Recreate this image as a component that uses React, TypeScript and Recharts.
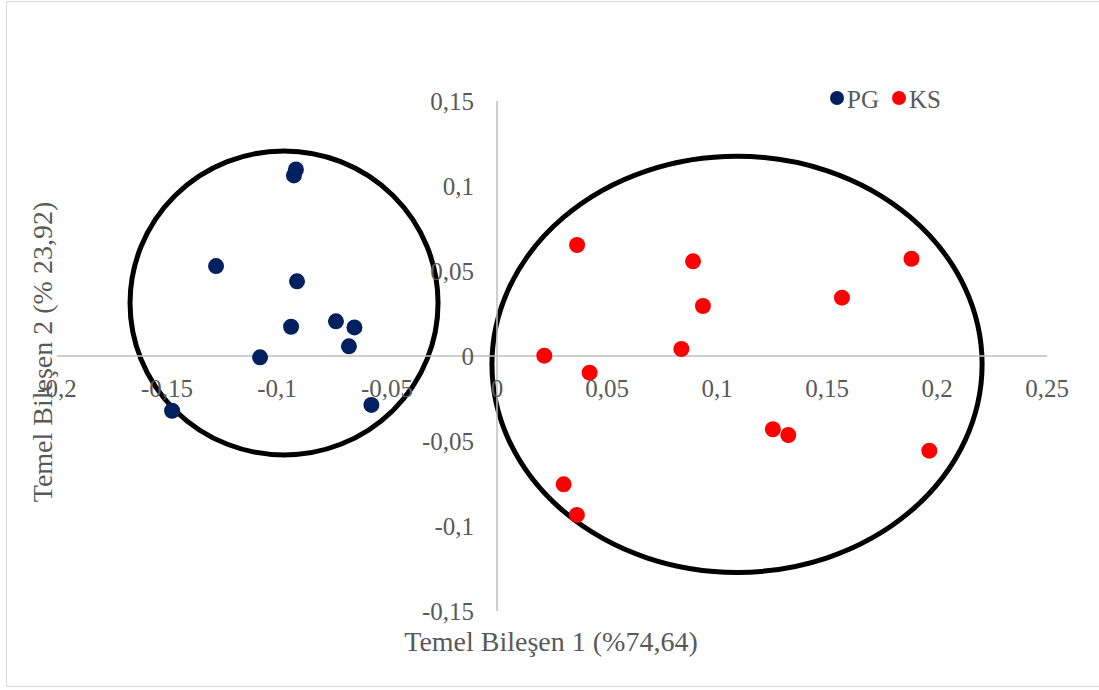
import React from 'react';
import { ScatterChart, Scatter, XAxis, YAxis, ReferenceLine, ReferenceArea } from 'recharts';

// ---- data ----
const pgX = [-0.0914, -0.0923, -0.1277, -0.0909, -0.0936, -0.0732, -0.0648, -0.0673, -0.1077, -0.0571, -0.1477];
const pgY = [0.1097, 0.1062, 0.0529, 0.0439, 0.0172, 0.0204, 0.0168, 0.0057, -0.0008, -0.0288, -0.0322];

const ksX = [0.0364, 0.0891, 0.1884, 0.0936, 0.1568, 0.0215, 0.0838, 0.0421, 0.1254, 0.1324, 0.1965, 0.0303, 0.0363];
const ksY = [0.0653, 0.0557, 0.0572, 0.0294, 0.0343, 0.0002, 0.0041, -0.0098, -0.0431, -0.0465, -0.0557, -0.0755, -0.0935];

// group ellipses: [x1, x2, y1, y2]
const pgEllipse = [-0.1668, -0.0268, -0.0582, 0.1206];
const ksEllipse = [-0.0023, 0.2205, -0.1273, 0.1175];

const xTicks = [-0.2, -0.15, -0.1, -0.05, 0, 0.05, 0.1, 0.15, 0.2, 0.25];
const yTicks = [-0.15, -0.1, -0.05, 0, 0.05, 0.1, 0.15];
const xDomain = [-0.2, 0.25];
const yDomain = [-0.15, 0.15];

const seriesNames = ['PG', 'KS'];
const seriesColors = ['#002060', '#FF0000'];
const xTitle = 'Temel Bileşen 1 (%74,64)';
const yTitle = 'Temel Bileşen 2 (% 23,92)';

const pgData = pgX.map((x, i) => ({ x, y: pgY[i] }));
const ksData = ksX.map((x, i) => ({ x, y: ksY[i] }));

// ---- layout ----
const W = 1099;
const H = 690;
const AX_H = 30;
const AX_W = 30;
const PLOT = { top: 101, right: 52, bottom: 79, left: 57 };
const M = { top: PLOT.top, right: PLOT.right, bottom: PLOT.bottom - AX_H, left: PLOT.left - AX_W };
const plotW = W - PLOT.left - PLOT.right;
const plotH = H - PLOT.top - PLOT.bottom;
const zeroX = PLOT.left + (plotW * (0 - xDomain[0])) / (xDomain[1] - xDomain[0]);
const zeroY = PLOT.top + (plotH * (yDomain[1] - 0)) / (yDomain[1] - yDomain[0]);

const FONT = '"Liberation Serif", serif';
const TXT = '#595959';
const TICK_FS = 25;
const fmt = (v: number) => String(v).replace('.', ',');

const XTick = (props: any) => {
  const { x, payload } = props;
  return (
    <text x={x} y={zeroY + 32} textAnchor="middle" dominantBaseline="central" fontFamily={FONT} fontSize={TICK_FS} fill={TXT}>
      {fmt(payload.value)}
    </text>
  );
};

const YTick = (props: any) => {
  const { y, payload } = props;
  return (
    <text x={zeroX - 23} y={y} textAnchor="end" dominantBaseline="central" fontFamily={FONT} fontSize={TICK_FS} fill={TXT}>
      {fmt(payload.value)}
    </text>
  );
};

const dot = (color: string) => (props: any) => (
  <circle cx={props.cx} cy={props.cy} r={8} fill={color} />
);

const ellipseShape = (props: any) => {
  const { x, y, width, height } = props;
  return (
    <ellipse
      cx={x + width / 2}
      cy={y + height / 2}
      rx={width / 2}
      ry={height / 2}
      fill="none"
      stroke="#000"
      strokeWidth={5}
    />
  );
};

export default function App() {
  return (
    <div style={{ position: 'absolute', left: 0, top: 0, width: W, height: H, overflow: 'hidden', background: '#fff' }}>
      <div
        style={{
          position: 'absolute',
          left: 6,
          top: 1,
          width: W + 20,
          height: 686,
          border: '1.5px solid #d9d9d9',
          boxSizing: 'border-box',
        }}
      />
      <div style={{ position: 'absolute', left: 0, top: 0 }}>
        <ScatterChart width={W} height={H} margin={M}>
          <XAxis
            type="number"
            dataKey="x"
            domain={xDomain}
            ticks={xTicks}
            interval={0}
            allowDataOverflow
            axisLine={false}
            tickLine={false}
            height={AX_H}
            tick={XTick}
          />
          <YAxis
            type="number"
            dataKey="y"
            domain={yDomain}
            ticks={yTicks}
            interval={0}
            allowDataOverflow
            axisLine={false}
            tickLine={false}
            width={AX_W}
            tick={YTick}
          />
          <ReferenceLine x={0} stroke="#bfbfbf" strokeWidth={1.5} />
          <ReferenceLine y={0} stroke="#bfbfbf" strokeWidth={1.5} />
          <Scatter name={seriesNames[0]} data={pgData} fill={seriesColors[0]} shape={dot(seriesColors[0])} isAnimationActive={false} />
          <Scatter name={seriesNames[1]} data={ksData} fill={seriesColors[1]} shape={dot(seriesColors[1])} isAnimationActive={false} />
          <ReferenceArea
            x1={pgEllipse[0]}
            x2={pgEllipse[1]}
            y1={pgEllipse[2]}
            y2={pgEllipse[3]}
            shape={ellipseShape}
            ifOverflow="visible"
          />
          <ReferenceArea
            x1={ksEllipse[0]}
            x2={ksEllipse[1]}
            y1={ksEllipse[2]}
            y2={ksEllipse[3]}
            shape={ellipseShape}
            ifOverflow="visible"
          />
        </ScatterChart>
      </div>
      <svg width={W} height={H} style={{ position: 'absolute', left: 0, top: 0, pointerEvents: 'none' }}>
        <text x={551} y={641} textAnchor="middle" dominantBaseline="central" fontFamily={FONT} fontSize={28} fill={TXT}>
          {xTitle}
        </text>
        <text
          x={42}
          y={352}
          textAnchor="middle"
          dominantBaseline="central"
          fontFamily={FONT}
          fontSize={28}
          fill={TXT}
          transform="rotate(-90 42 352)"
        >
          {yTitle}
        </text>
        {seriesNames.map((n, i) => {
          const lx = 837 + i * 62;
          return (
            <g key={n}>
              <circle cx={lx} cy={98} r={7} fill={seriesColors[i]} />
              <text x={lx + 10} y={99} dominantBaseline="central" fontFamily={FONT} fontSize={25} fill={TXT}>
                {n}
              </text>
            </g>
          );
        })}
      </svg>
    </div>
  );
}
